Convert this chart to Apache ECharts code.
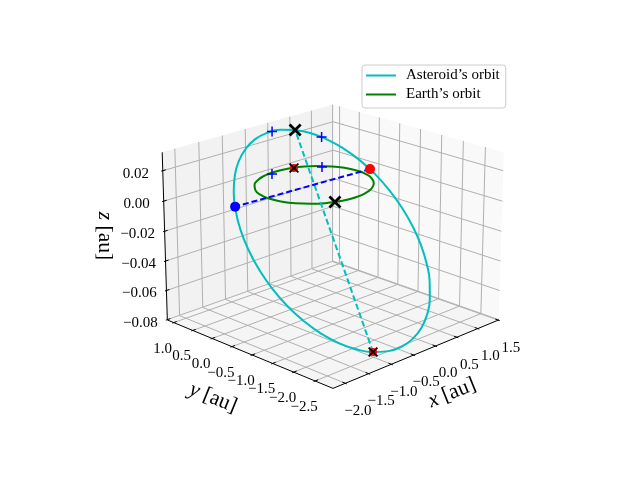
<!DOCTYPE html>
<html>
<head>
<meta charset="utf-8">
<script src="https://cdn.jsdelivr.net/npm/echarts@6/dist/echarts.min.js"></script>
<style>html,body{margin:0;background:#fff}#main{width:640px;height:480px}</style>
</head>
<body>
<div id="main"></div>
<script>
// axis ticks and limits
var xTicks = [-2, -1.5, -1, -0.5, 0, 0.5, 1, 1.5];
var yTicks = [-2.5, -2, -1.5, -1, -0.5, 0, 0.5, 1];
var zTicks = [-0.08, -0.06, -0.04, -0.02, 0, 0.02];
var xLim = [-2.26, 1.51];
var yLim = [-2.91, 1.17];
var zLim = [-0.0802, 0.032];

// asteroid's orbit, au
var asteroidX = [0.328, 0.577, 0.799, 0.987, 1.136, 1.241, 1.298, 1.307, 1.266, 1.178, 1.044, 0.869, 0.658, 0.418, 0.156, -0.121, -0.403, -0.683, -0.951, -1.200, -1.422, -1.610, -1.759, -1.863, -1.921, -1.930, -1.889, -1.801, -1.667, -1.492, -1.281, -1.041, -0.779, -0.502, -0.220, 0.060];
var asteroidY = [0.841, 0.715, 0.543, 0.331, 0.084, -0.190, -0.482, -0.783, -1.085, -1.379, -1.655, -1.904, -2.120, -2.296, -2.427, -2.508, -2.537, -2.513, -2.437, -2.311, -2.139, -1.927, -1.680, -1.406, -1.114, -0.813, -0.511, -0.217, 0.058, 0.308, 0.524, 0.700, 0.831, 0.912, 0.941, 0.917];
var asteroidZ = [0.0269, 0.0236, 0.0187, 0.0125, 0.0052, -0.0031, -0.0121, -0.0215, -0.0310, -0.0403, -0.0492, -0.0573, -0.0645, -0.0706, -0.0752, -0.0783, -0.0799, -0.0798, -0.0780, -0.0746, -0.0698, -0.0636, -0.0562, -0.0480, -0.0390, -0.0296, -0.0201, -0.0108, -0.0019, 0.0063, 0.0135, 0.0195, 0.0241, 0.0273, 0.0288, 0.0287];

// earth's orbit, au (z = 0)
var earthX = [1, 0.966, 0.866, 0.707, 0.5, 0.259, 0, -0.259, -0.5, -0.707, -0.866, -0.966, -1, -0.966, -0.866, -0.707, -0.5, -0.259, 0, 0.259, 0.5, 0.707, 0.866, 0.966];
var earthY = [0, 0.259, 0.5, 0.707, 0.866, 0.966, 1, 0.966, 0.866, 0.707, 0.5, 0.259, 0, -0.259, -0.5, -0.707, -0.866, -0.966, -1, -0.966, -0.866, -0.707, -0.5, -0.259];

// marked points [x, y, z]
var perihelion = [0.328, 0.841, 0.0269];
var aphelion = [-0.951, -2.437, -0.0780];
var nodeAsc = [1.209, -0.091, 0];
var nodeDesc = [-1.643, 0.098, 0];
var plusMarks = [[-0.107, 0.937, 0.0289], [0.725, 0.608, 0.0206], [-0.114, 0.943, 0], [0.727, 0.602, 0]];
var earthAtAphelion = [-0.382, -0.925, 0];
var earthAtPerihelion = [0.362, 0.915, 0];

var asteroidName = 'Asteroid\u2019s orbit';
var earthName = 'Earth\u2019s orbit';
var FONT = '"Liberation Serif"';

// same view as a 3d plot: elev 20, azim -135, dist 10
var boxXY = 1.1905, boxZ = 0.8929, scale = 1998, cx = 333, cy = 237.4;
var elev = 20 * Math.PI / 180, azim = -135 * Math.PI / 180;
var w = [Math.cos(elev) * Math.cos(azim), Math.cos(elev) * Math.sin(azim), Math.sin(elev)];
var u = [Math.SQRT1_2, -Math.SQRT1_2, 0];
var v = [w[1] * u[2] - w[2] * u[1], w[2] * u[0] - w[0] * u[2], w[0] * u[1] - w[1] * u[0]];
function dot(a, b) { return a[0] * b[0] + a[1] * b[1] + a[2] * b[2]; }
function project(p3) {
	var p = [
		(p3[0] - xLim[0]) / (xLim[1] - xLim[0]) * boxXY - boxXY / 2,
		(p3[1] - yLim[0]) / (yLim[1] - yLim[0]) * boxXY - boxXY / 2,
		(p3[2] - zLim[0]) / (zLim[1] - zLim[0]) * boxZ - boxZ / 2
	];
	var d = 10 - dot(w, p);
	return [cx + scale * dot(u, p) / d, cy - scale * dot(v, p) / d];
}
function pts(list) { return list.map(project); }

var asteroid = asteroidX.map(function (x, i) { return [x, asteroidY[i], asteroidZ[i]]; });
asteroid.push(asteroid[0]);
var earth = earthX.map(function (x, i) { return [x, earthY[i], 0]; });
earth.push(earth[0]);

// panes, grid lines, axis lines and ticks
var x0 = xLim[0], x1 = xLim[1], y0 = yLim[0], y1 = yLim[1], z0 = zLim[0], z1 = zLim[1];
var panes = [
	{ color: '#f2f2f2', path: [[x0, y1, z0], [x1, y1, z0], [x1, y1, z1], [x0, y1, z1]] },
	{ color: '#f9f9f9', path: [[x1, y0, z0], [x1, y1, z0], [x1, y1, z1], [x1, y0, z1]] },
	{ color: '#f5f5f5', path: [[x0, y0, z0], [x1, y0, z0], [x1, y1, z0], [x0, y1, z0]] }
];
var gridLines = [];
xTicks.forEach(function (t) { gridLines.push([[t, y0, z0], [t, y1, z0], [t, y1, z1]]); });
yTicks.forEach(function (t) { gridLines.push([[x0, t, z0], [x1, t, z0], [x1, t, z1]]); });
zTicks.forEach(function (t) { gridLines.push([[x0, y1, t], [x1, y1, t], [x1, y0, t]]); });
var dx = (x1 - x0) / 12, dy = (y1 - y0) / 12;
var axisLines = [[[x0, y0, z0], [x1, y0, z0]], [[x0, y0, z0], [x0, y1, z0]], [[x0, y1, z0], [x0, y1, z1]]];
xTicks.forEach(function (t) { axisLines.push([[t, y0 + 0.2 * dy, z0], [t, y0 - 0.1 * dy, z0]]); });
yTicks.forEach(function (t) { axisLines.push([[x0 + 0.2 * dx, t, z0], [x0 - 0.1 * dx, t, z0]]); });
zTicks.forEach(function (t) { axisLines.push([[x0 + 0.2 * dx, y1, t], [x0 - 0.1 * dx, y1, t]]); });

function fmt(t, d) { return t.toFixed(d).replace('-', '\u2212'); }
var tickLabels = [];
xTicks.forEach(function (t) { var q = project([t, y0, z0]); tickLabels.push({ t: fmt(t, 1), x: q[0] + 12.5, y: q[1] + 27.5 }); });
yTicks.forEach(function (t) { var q = project([x0, t, z0]); tickLabels.push({ t: fmt(t, 1), x: q[0] - 11, y: q[1] + 26 }); });
zTicks.forEach(function (t) { var q = project([x0, y1, t]); tickLabels.push({ t: fmt(t, 2), x: q[0] - 27, y: q[1] + 3 }); });
var axisNames = [
	{ t: '{i|x} [au]', x: 452, y: 393, r: 22 },
	{ t: '{i|y} [au]', x: 213, y: 398, r: -22 },
	{ t: '{i|z} [au]', x: 105, y: 236, r: -90 }
];

function pathSeries(list, z, style) {
	return {
		type: 'custom', z: z, silent: true, clip: false,
		data: list.map(function (_, i) { return [i]; }),
		renderItem: function (params, api) {
			var points = pts(list[params.dataIndex]).map(function (q) { return api.coord(q); });
			return { type: 'polyline', shape: { points: points }, style: style };
		}
	};
}
function paneSeries() {
	return {
		type: 'custom', z: 1, silent: true, clip: false,
		data: panes.map(function (_, i) { return [i]; }),
		renderItem: function (params, api) {
			var pane = panes[params.dataIndex];
			return { type: 'polygon', shape: { points: pts(pane.path).map(function (q) { return api.coord(q); }) }, style: { fill: pane.color } };
		}
	};
}
function textSeries(list, size) {
	return {
		type: 'custom', z: 3, silent: true, clip: false,
		data: list.map(function (_, i) { return [i]; }),
		renderItem: function (params, api) {
			var l = list[params.dataIndex], q = api.coord([l.x, l.y]);
			return {
				type: 'text', x: q[0], y: q[1], rotation: (l.r || 0) * Math.PI / 180,
				style: {
					text: l.t, fontFamily: FONT, fontSize: size, fill: '#000', align: 'center', verticalAlign: 'middle',
					rich: { i: { fontFamily: FONT, fontSize: size, fontStyle: 'italic' } }
				}
			};
		}
	};
}
function marks(list, z, symbol, size, color) {
	return { type: 'scatter', z: z, data: pts(list), symbol: symbol, symbolSize: size, itemStyle: { color: color, opacity: 1 } };
}

var bigX = 'path://M0 3L3 0L10 7L17 0L20 3L13 10L20 17L17 20L10 13L3 20L0 17L7 10Z';
var smallX = 'path://M0 2.5L2.5 0L10 7.5L17.5 0L20 2.5L12.5 10L20 17.5L17.5 20L10 12.5L2.5 20L0 17.5L7.5 10Z';
var plus = 'path://M8.5 0H11.5V8.5H20V11.5H11.5V20H8.5V11.5H0V8.5H8.5Z';

var myChart = echarts.init(document.getElementById('main'));
myChart.setOption({
	animation: false,
	grid: { left: 0, right: 0, top: 0, bottom: 0 },
	xAxis: { type: 'value', min: 0, max: 640, show: false },
	yAxis: { type: 'value', min: 0, max: 480, inverse: true, show: false },
	legend: {
		left: 362, top: 65, orient: 'vertical',
		padding: [3, 6, 6, 4], itemWidth: 30, itemHeight: 2, itemGap: 4,
		textStyle: { fontFamily: FONT, fontSize: 15, lineHeight: 15, color: '#000', padding: [0, 0, 0, 5] },
		backgroundColor: 'rgba(255,255,255,0.8)', borderColor: '#ccc', borderWidth: 1, borderRadius: 3,
		data: [{ name: asteroidName, icon: 'rect' }, { name: earthName, icon: 'rect' }]
	},
	series: [
		paneSeries(),
		pathSeries(gridLines, 2, { stroke: '#b0b0b0', lineWidth: 1, fill: null }),
		pathSeries(axisLines, 3, { stroke: '#000', lineWidth: 1, fill: null }),
		textSeries(tickLabels, 15),
		textSeries(axisNames, 21.5),
		{ type: 'line', name: asteroidName, z: 5, data: pts(asteroid), symbol: 'none', smooth: true, lineStyle: { color: '#00bfbf', width: 2 }, itemStyle: { color: '#00bfbf' } },
		{ type: 'line', name: earthName, z: 5, data: pts(earth), symbol: 'none', smooth: true, lineStyle: { color: '#008000', width: 2 }, itemStyle: { color: '#008000' } },
		{ type: 'line', z: 6, data: pts([aphelion, perihelion]), symbol: 'none', lineStyle: { color: '#00bfbf', width: 2, type: [6, 3] } },
		{ type: 'line', z: 6, data: pts([nodeAsc, nodeDesc]), symbol: 'none', lineStyle: { color: '#0000ff', width: 2, type: [6, 3] } },
		marks([nodeAsc], 7, 'circle', 10, '#ff0000'),
		marks([nodeDesc], 7, 'circle', 10, '#0000ff'),
		marks(plusMarks, 7, plus, 10, '#0000ff'),
		marks([aphelion, earthAtPerihelion], 7, 'circle', 8, '#ff0000'),
		marks([aphelion, earthAtPerihelion], 8, smallX, 10, '#000'),
		marks([perihelion, earthAtAphelion], 8, bigX, 13, '#000')
	]
});
</script>
</body>
</html>
